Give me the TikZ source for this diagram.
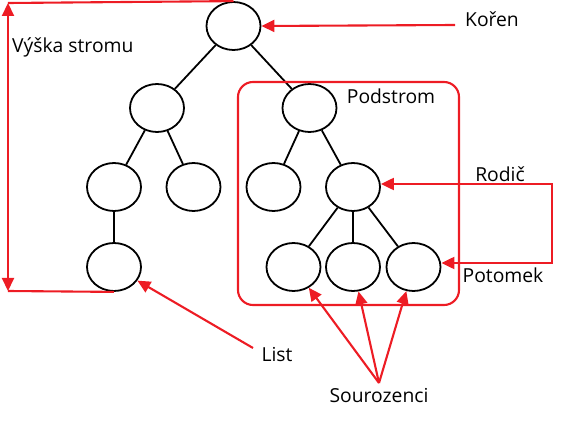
\documentclass[tikz,border=0pt]{standalone}
\usepackage{fontspec}
\setmainfont{Open Sans}
\usetikzlibrary{arrows.meta,shapes.geometric}
\definecolor{treered}{RGB}{237,28,36}

\begin{document}
\begin{tikzpicture}[x=1pt,y=-1pt,
  vrchol/.style={ellipse,draw=black,line width=1.8pt,minimum width=54pt,minimum height=48pt,inner sep=0pt},
  hrana/.style={line width=1.8pt,black},
  cervena/.style={line width=2.1pt,color=treered},
  sipka/.style={cervena,-{Triangle[length=13pt,width=12pt]}},
  popis/.style={font=\fontsize{19.3}{22}\selectfont,inner sep=0pt}]
\useasboundingbox (0,0) rectangle (576,422);

% uzly stromu
\node[vrchol] (root) at (233.5,26) {};
\node[vrchol] (a) at (157,108) {};
\node[vrchol] (sub) at (309.5,108) {};
\node[vrchol] (aa) at (114,187) {};
\node[vrchol] (ab) at (193.5,187) {};
\node[vrchol] (s1) at (273.5,187) {};
\node[vrchol] (par) at (353,187) {};
\node[vrchol] (leaf) at (114,267) {};
\node[vrchol] (c1) at (293.5,267) {};
\node[vrchol] (c2) at (353,267) {};
\node[vrchol] (c3) at (413.5,267) {};

\foreach \u/\v in {root/a,root/sub,a/aa,a/ab,aa/leaf,sub/s1,sub/par,par/c1,par/c2,par/c3}
  \draw[hrana] (\u) -- (\v);

% podstrom
\draw[cervena,rounded corners=15pt] (238,82) rectangle (459,305);
\node[popis] (podstrom) at (391,96) {Podstrom};

% koren
\node[popis] (koren) at (492,19) {Kořen};
\coordinate (kstart) at (455,25);
\draw[sipka] (kstart) -- (root.east);

% vyska stromu
\coordinate (vtop) at (8,3);
\coordinate (vbot) at (8,291);
\draw[cervena] (root.north) -- (vtop);
\draw[cervena] (leaf.south) -- (vbot);
\draw[cervena,{Triangle[length=13pt,width=12pt]}-{Triangle[length=13pt,width=12pt]}] (vbot) -- (vtop);
\node[popis,anchor=west] (vyska) at (12,47) {Výška stromu};

% rodic a potomek
\coordinate (ohyb) at (552,224);
\draw[cervena,{Triangle[length=13pt,width=12pt]}-{Triangle[length=13pt,width=12pt]}] ([yshift=3pt]par.east) -| (ohyb) |- ([yshift=4pt]c3.east);
\node[popis] (rodic) at (500,174) {Rodič};
\node[popis] (potomek) at (503,275) {Potomek};

% list
\node[popis] (list) at (277,355) {List};
\coordinate (lstart) at (253,348);
\draw[sipka] (lstart) -- (leaf);

% sourozenci
\node[popis] (souroz) at (379,396) {Sourozenci};
\coordinate (sstart) at (379,383);
\foreach \c in {c1,c2,c3}
  \draw[sipka] (sstart) -- (\c);

\end{tikzpicture}
\end{document}
